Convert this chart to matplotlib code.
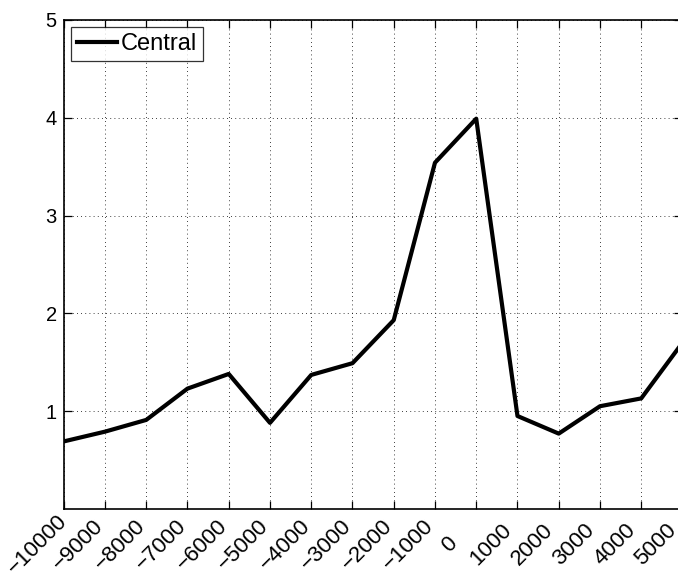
import matplotlib

matplotlib.use("Agg")

import matplotlib.pyplot as plt
from matplotlib.transforms import ScaledTranslation

# offsets and central estimate
offsets = [-10000, -9000, -8000, -7000, -6000, -5000, -4000, -3000,
           -2000, -1000, 0, 1000, 2000, 3000, 4000, 5000]
central = [0.69, 0.79, 0.91, 1.23, 1.38, 0.88, 1.37, 1.49,
           1.93, 3.54, 3.99, 0.95, 0.77, 1.05, 1.13, 1.70]
y_ticks = [1, 2, 3, 4, 5]

plt.rcParams["font.family"] = ["Liberation Sans", "DejaVu Sans"]

fig = plt.figure(figsize=(6.78, 5.77), dpi=100)
# axes run slightly past the right edge of the canvas
ax = fig.add_axes([0.094, 0.118, 0.9126, 0.8475])

ax.plot(offsets, central, color="black", linewidth=3, label="Central")

ax.set_xlim(-10000, 5000)
ax.set_ylim(0, 5)
ax.set_xticks(offsets)
ax.set_xticklabels([f"{v}".replace("-", "\u2212") for v in offsets],
                   rotation=45, ha="center", va="center",
                   rotation_mode="anchor")
ax.set_yticks(y_ticks)
ax.tick_params(direction="in", top=True, right=True, labelsize=14.5,
               length=6, width=0.9)
ax.tick_params(axis="x", labelsize=16, pad=26)
ax.tick_params(axis="y", pad=5)
ax.grid(True, linestyle=(0, (1, 4)), color="black", linewidth=0.6)

# rotated labels sit centred a little to the left of their tick
shift = ScaledTranslation(-0.265, 0, fig.dpi_scale_trans)
for lbl in ax.get_xticklabels():
    lbl.set_transform(lbl.get_transform() + shift)

for spine in ax.spines.values():
    spine.set_linewidth(1.2)

leg = ax.legend(loc="upper left", fontsize=17, frameon=True, fancybox=False,
                edgecolor="black", handlelength=1.7, handletextpad=0.15,
                borderpad=0.25, borderaxespad=0.3)
leg.get_frame().set_linewidth(0.9)

fig.savefig("out.png", dpi=100)
plt.close(fig)
